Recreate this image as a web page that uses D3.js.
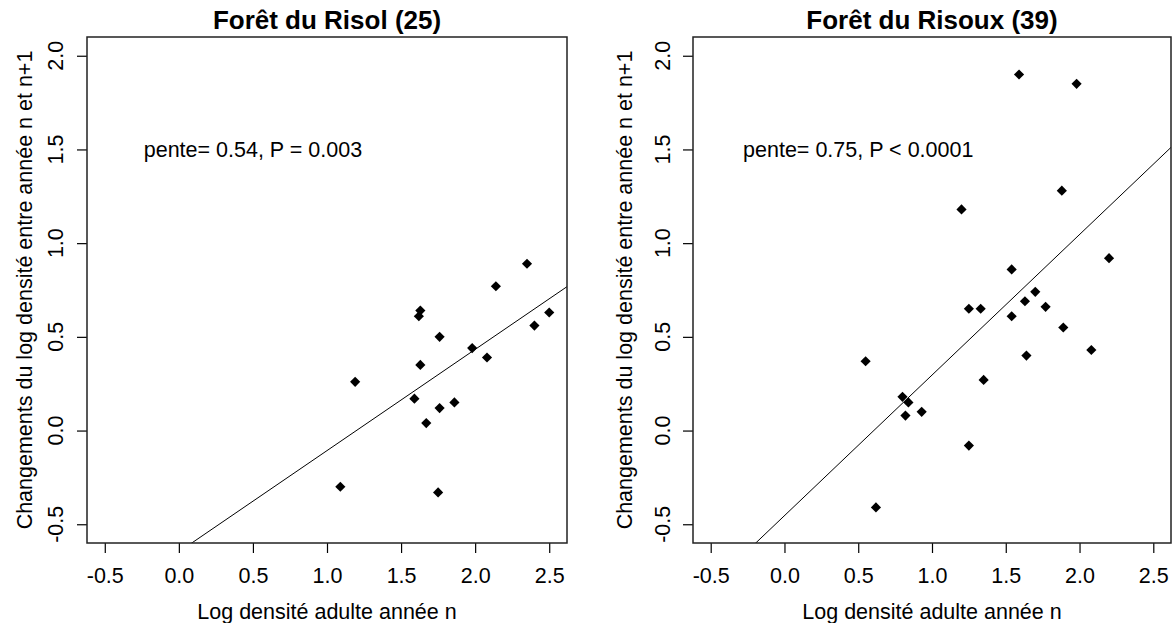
<!DOCTYPE html>
<html>
<head>
<meta charset="utf-8">
<script src="https://cdn.jsdelivr.net/npm/d3@7"></script>
<style>
  html, body { margin: 0; padding: 0; background: #fff; }
  svg text { font-family: "Liberation Sans", Arial, sans-serif; fill: #000; }
</style>
</head>
<body>
<svg id="chart" width="1172" height="623"></svg>
<script>
// ---- data ----
const panelTitles = ["Forêt du Risol (25)", "Forêt du Risoux (39)"];
const annotations = ["pente= 0.54, P = 0.003", "pente= 0.75, P < 0.0001"];
const xAxisTitle = "Log densité adulte année n";
const yAxisTitle = "Changements du log densité entre année n et n+1";

const xTicks = [-0.5, 0.0, 0.5, 1.0, 1.5, 2.0, 2.5];
const xTickLabels = ["-0.5", "0.0", "0.5", "1.0", "1.5", "2.0", "2.5"];
const yTicks = [-0.5, 0.0, 0.5, 1.0, 1.5, 2.0];
const yTickLabels = ["-0.5", "0.0", "0.5", "1.0", "1.5", "2.0"];

// Forêt du Risol
const risolX = [2.35, 2.14, 1.63, 1.62, 2.50, 2.40, 1.76, 1.98, 2.08, 1.63, 1.19, 1.59, 1.86, 1.76, 1.67, 1.09, 1.75];
const risolY = [0.89, 0.77, 0.64, 0.61, 0.63, 0.56, 0.50, 0.44, 0.39, 0.35, 0.26, 0.17, 0.15, 0.12, 0.04, -0.30, -0.33];

// Forêt du Risoux
const risouxX = [1.59, 1.98, 1.88, 1.20, 2.20, 1.54, 1.70, 1.63, 1.25, 1.33, 1.77, 1.54, 1.89, 2.08, 1.64, 0.55, 1.35, 0.80, 0.84, 0.82, 0.93, 1.25, 0.62];
const risouxY = [1.90, 1.85, 1.28, 1.18, 0.92, 0.86, 0.74, 0.69, 0.65, 0.65, 0.66, 0.61, 0.55, 0.43, 0.40, 0.37, 0.27, 0.18, 0.15, 0.08, 0.10, -0.08, -0.41];

// fitted regressions: y = intercept + slope * x
const slopes = [0.54, 0.75];
const intercepts = [-0.647, -0.454];

// annotation anchor in data units
const annotX = [0.5, 0.5];
const annotY = [1.5, 1.5];

// ---- layout ----
const xDomain = [-0.62, 2.62];
const yDomain = [-0.6, 2.1];
const frames = [
  { left: 87, right: 567, top: 37, bottom: 543, yTickText: 24, yTitleX: 32 },
  { left: 693, right: 1171, top: 37, bottom: 543, yTickText: 23, yTitleX: 632 }
];
const baseFont = 21.5;

const svg = d3.select("#chart");
const panelData = [
  risolX.map((x, i) => ({ x, y: risolY[i] })),
  risouxX.map((x, i) => ({ x, y: risouxY[i] }))
];

const diamond = d3.symbol().type(d3.symbolDiamond2).size(66);

frames.forEach((f, p) => {
  const x = d3.scaleLinear().domain(xDomain).range([f.left, f.right]);
  const y = d3.scaleLinear().domain(yDomain).range([f.bottom, f.top]);
  const g = svg.append("g");

  const clipId = "clip" + p;
  g.append("clipPath").attr("id", clipId)
    .append("rect")
    .attr("x", f.left).attr("y", f.top)
    .attr("width", f.right - f.left).attr("height", f.bottom - f.top);

  // regression line
  const xs = xDomain;
  g.append("line")
    .attr("clip-path", `url(#${clipId})`)
    .attr("x1", x(xs[0])).attr("y1", y(intercepts[p] + slopes[p] * xs[0]))
    .attr("x2", x(xs[1])).attr("y2", y(intercepts[p] + slopes[p] * xs[1]))
    .attr("stroke", "#000").attr("stroke-width", 1);

  // points
  g.selectAll("path.pt").data(panelData[p]).join("path")
    .attr("class", "pt")
    .attr("d", diamond)
    .attr("transform", d => `translate(${x(d.x)},${y(d.y)})`)
    .attr("fill", "#000");

  // bottom axis
  const xAxis = d3.axisBottom(x).tickValues(xTicks)
    .tickFormat((d, i) => xTickLabels[i]).tickSize(10).tickPadding(15);
  const gx = g.append("g").attr("transform", `translate(0,${f.bottom})`).call(xAxis);
  gx.select(".domain").remove();
  gx.selectAll(".tick line").attr("stroke", "#000").attr("stroke-width", 1.2);
  gx.selectAll("text").attr("font-size", baseFont).attr("font-family", null).attr("fill", "#000");

  // left axis with labels parallel to the axis
  const yAxis = d3.axisLeft(y).tickValues(yTicks).tickFormat("").tickSize(10);
  const gy = g.append("g").attr("transform", `translate(${f.left},0)`).call(yAxis);
  gy.select(".domain").remove();
  gy.selectAll(".tick line").attr("stroke", "#000").attr("stroke-width", 1.2);
  g.selectAll("text.ytick").data(yTicks).join("text")
    .attr("class", "ytick")
    .attr("transform", d => `translate(${f.left - f.yTickText},${y(d)}) rotate(-90)`)
    .attr("text-anchor", "middle")
    .attr("font-size", baseFont)
    .text((d, i) => yTickLabels[i]);

  // frame
  g.append("rect")
    .attr("x", f.left).attr("y", f.top)
    .attr("width", f.right - f.left).attr("height", f.bottom - f.top)
    .attr("fill", "none").attr("stroke", "#222").attr("stroke-width", 1.5);

  // title
  g.append("text")
    .attr("x", (f.left + f.right) / 2).attr("y", 29)
    .attr("text-anchor", "middle")
    .attr("font-size", 26).attr("font-weight", "bold")
    .text(panelTitles[p]);

  // annotation
  g.append("text")
    .attr("x", x(annotX[p])).attr("y", y(annotY[p]))
    .attr("dy", "0.35em")
    .attr("text-anchor", "middle")
    .attr("font-size", baseFont)
    .text(annotations[p]);

  // axis titles
  g.append("text")
    .attr("x", (f.left + f.right) / 2).attr("y", 619)
    .attr("text-anchor", "middle")
    .attr("font-size", baseFont)
    .text(xAxisTitle);

  g.append("text")
    .attr("transform", `translate(${f.yTitleX},${(f.top + f.bottom) / 2}) rotate(-90)`)
    .attr("text-anchor", "middle")
    .attr("font-size", baseFont)
    .text(yAxisTitle);
});
</script>
</body>
</html>
